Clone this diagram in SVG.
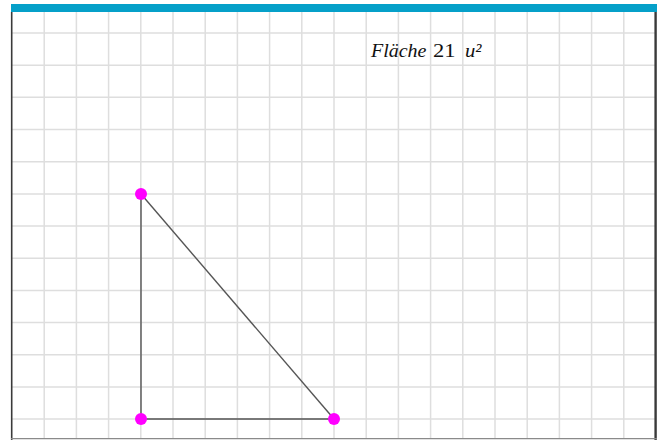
<svg xmlns="http://www.w3.org/2000/svg" width="661" height="440" viewBox="0 0 661 440">
<style>
.grid{stroke:#dedede;stroke-width:1.5;fill:none}
.edge{stroke:#555;stroke-width:1.4;fill:none}
.pt{fill:#ff00ff}
.lbl{font-family:"Liberation Serif","Times New Roman",serif;font-size:19px;fill:#111111}
.it{font-style:italic}
</style>
<rect x="0" y="0" width="661" height="440" fill="#ffffff"/>
<g id="grid" class="grid">
<path d="M44.2 12V438M76.4 12V438M108.6 12V438M140.8 12V438M173 12V438M205.2 12V438M237.4 12V438M269.6 12V438M301.8 12V438M334 12V438M366.2 12V438M398.4 12V438M430.6 12V438M462.8 12V438M495 12V438M527.2 12V438M559.4 12V438M591.6 12V438M623.8 12V438"/>
<path d="M12 33H655M12 65.2H655M12 97.3H655M12 129.5H655M12 161.7H655M12 193.9H655M12 226H655M12 258.2H655M12 290.4H655M12 322.5H655M12 354.7H655M12 386.9H655M12 419H655"/>
</g>
<rect x="11" y="4" width="646" height="8" fill="#05a0c9"/>
<line x1="11.7" y1="12" x2="11.7" y2="440" stroke="#3a3a3a" stroke-width="1.6"/>
<line x1="655.6" y1="12" x2="655.6" y2="440" stroke="#3a3a3a" stroke-width="2.4"/>
<line x1="11" y1="438.6" x2="657" y2="438.6" stroke="#8a8a8a" stroke-width="1.4"/>
<g id="connectors">
<line class="edge" x1="141" y1="194" x2="141" y2="419"/>
<line class="edge" x1="141" y1="419" x2="334" y2="419"/>
<line class="edge" x1="141" y1="194" x2="334" y2="419"/>
</g>
<g id="pointA"><circle class="pt" cx="141" cy="194" r="6"/></g>
<g id="pointB"><circle class="pt" cx="141" cy="419" r="6"/></g>
<g id="pointC"><circle class="pt" cx="334" cy="419" r="6"/></g>
<g id="areaLabel" class="lbl">
<text x="371" y="56.5" class="it" textLength="55.5" lengthAdjust="spacingAndGlyphs">Fläche</text>
<text x="433" y="56.5" textLength="22.5" lengthAdjust="spacingAndGlyphs">21</text>
<text x="465" y="56.5" class="it" textLength="16.5" lengthAdjust="spacingAndGlyphs">u²</text>
</g>
</svg>
